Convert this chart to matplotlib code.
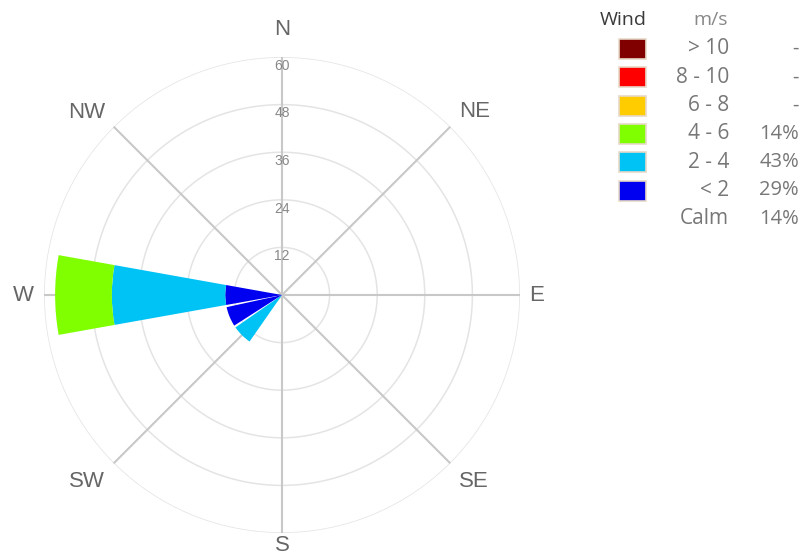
import matplotlib
matplotlib.use("Agg")
import matplotlib.pyplot as plt
import numpy as np

# 16 compass sectors, values in % of observations
directions = ['N', 'NNE', 'NE', 'ENE', 'E', 'ESE', 'SE', 'SSE',
              'S', 'SSW', 'SW', 'WSW', 'W', 'WNW', 'NW', 'NNW']
lt2 = [0, 0, 0, 0, 0, 0, 0, 0, 0, 0, 0, 14.3, 14.3, 0, 0, 0]
s2_4 = [0, 0, 0, 0, 0, 0, 0, 0, 0, 0, 14.3, 0, 28.6, 0, 0, 0]
s4_6 = [0, 0, 0, 0, 0, 0, 0, 0, 0, 0, 0, 0, 14.3, 0, 0, 0]

bins = ['> 10', '8 - 10', '6 - 8', '4 - 6', '2 - 4', '< 2', 'Calm']
shares = ['-', '-', '-', '14%', '43%', '29%', '14%']
bin_colors = ['#800000', '#ff0000', '#ffcc00', '#7fff00', '#00c3f5', '#0000f0', None]

rticks = [12, 24, 36, 48, 60]
compass = ['N', 'NE', 'E', 'SE', 'S', 'SW', 'W', 'NW']
# label placement (angle in degrees from N, radius in data units)
label_ang = [0, 46.3, 90, 134.2, 180, 226.4, 270, 313.1]
label_r = [66.9, 67.1, 64.3, 67.3, 63.2, 68, 65.3, 67.5]

fig = plt.figure(figsize=(8, 5.58), dpi=100)
ax = fig.add_axes([0.055, 0.0448, 0.595, 0.853], projection='polar')
ax.set_theta_zero_location('N')
ax.set_theta_direction(-1)
ax.set_ylim(0, 60)
ax.grid(False)
ax.set_xticks([])
ax.set_yticks([])
ax.spines['polar'].set_visible(False)

# grid circles and spokes
t = np.linspace(0, 2 * np.pi, 400)
for r in rticks:
    ax.plot(t, np.full_like(t, r), color='#e4e4e4', lw=1.1, zorder=1)
for i in range(8):
    a = np.deg2rad(i * 45)
    ax.plot([a, a], [0, 60], color='#c8c8c8', lw=1.5, zorder=1)

theta = np.deg2rad(np.arange(16) * 22.5)
width = np.deg2rad(22.5 * 0.9)
bottom = np.zeros(16)
for vals, col in [(lt2, bin_colors[5]), (s2_4, bin_colors[4]), (s4_6, bin_colors[3])]:
    vals = np.array(vals)
    ax.bar(theta, vals, width=width, bottom=bottom, color=col, edgecolor='none',
           zorder=3, align='center')
    bottom = bottom + vals

# radial tick labels on the N spoke
for r in rticks:
    ax.text(0, r - 2.2, str(r), ha='center', va='center', fontsize=10,
            color='#888888', family='Liberation Sans', zorder=4)

# compass labels
for name, a_deg, rr in zip(compass, label_ang, label_r):
    ax.text(np.deg2rad(a_deg), rr, name, ha='center', va='center', fontsize=16,
            color='#666666', family='Liberation Sans', clip_on=False)

# legend table
fig.text(600 / 800, 1 - 20 / 558, 'Wind', ha='left', va='center', fontsize=14,
         color='#3a3a3a', family='Open Sans')
fig.text(728 / 800, 1 - 20 / 558, 'm/s', ha='right', va='center', fontsize=14,
         color='#888888', family='Open Sans')
y0 = 49
step = 28.3
for k, (lab, sh, col) in enumerate(zip(bins, shares, bin_colors)):
    yp = y0 + k * step
    if col is not None:
        fig.patches.append(plt.Rectangle((619 / 800, 1 - (yp + 10) / 558), 27 / 800, 20 / 558,
                                         transform=fig.transFigure, facecolor=col,
                                         edgecolor='#e6d9c8', lw=1.2))
    fig.text(729 / 800, 1 - yp / 558, lab, ha='right', va='center', fontsize=15,
             color='#777777', family='Open Sans')
    fig.text(799 / 800, 1 - yp / 558, sh, ha='right', va='center', fontsize=14.5,
             color='#777777', family='Open Sans')

fig.savefig('out.png', dpi=100)
